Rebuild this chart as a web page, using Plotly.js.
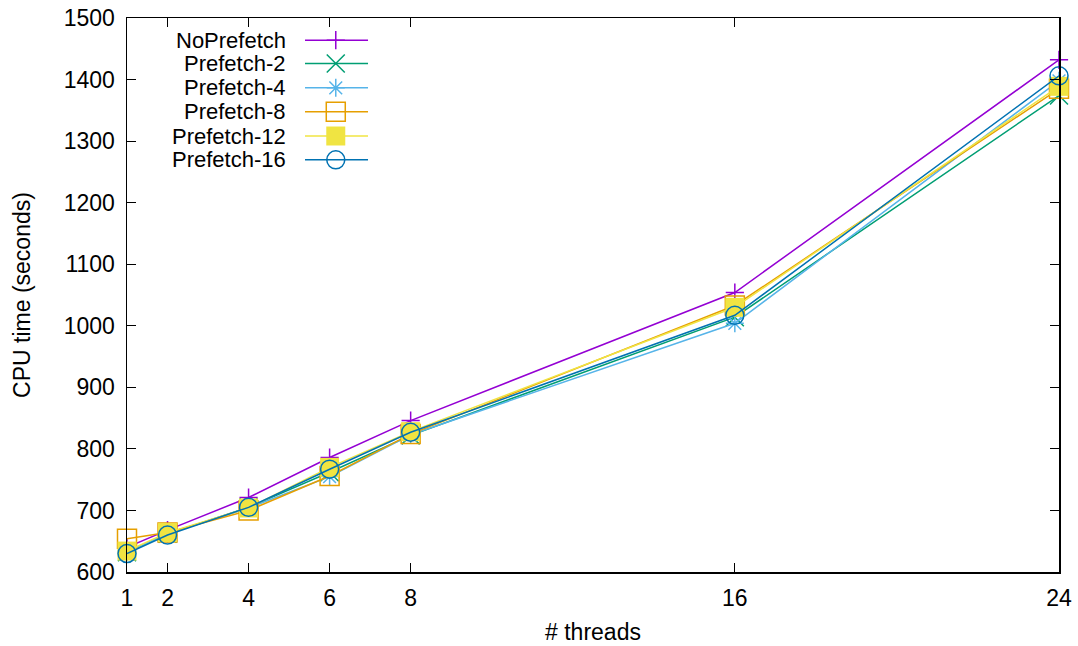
<!DOCTYPE html>
<html>
<head>
<meta charset="utf-8">
<script src="https://cdn.plot.ly/plotly-3.0.1.min.js"></script>
<style>html,body{margin:0;padding:0;background:#fff;}#chart{width:1078px;height:646px;}</style>
</head>
<body>
<div id="chart"></div>
<script>
const threads = [1, 2, 4, 6, 8, 16, 24];
const seriesNames = ["NoPrefetch", "Prefetch-2", "Prefetch-4", "Prefetch-8", "Prefetch-12", "Prefetch-16"];
const noPrefetch = [640, 668, 721, 786, 846, 1054, 1432];
const prefetch2  = [632, 662, 705, 762, 822, 1014, 1374];
const prefetch4  = [633, 662, 704, 755, 823, 1004, 1398];
const prefetch8  = [654, 664, 700, 756, 824, 1033, 1385];
const prefetch12 = [634, 664, 704, 770, 828, 1030, 1389];
const prefetch16 = [630, 660, 705, 767, 827, 1017, 1406];
const xTicks = [1, 2, 4, 6, 8, 16, 24];
const yTicks = [600, 700, 800, 900, 1000, 1100, 1200, 1300, 1400, 1500];

const allSeries = [noPrefetch, prefetch2, prefetch4, prefetch8, prefetch12, prefetch16];
const colors = ["#9400d3", "#009e73", "#56b4e9", "#e69f00", "#f0e442", "#0072b2"];
const symbols = ["cross-thin-open", "x-thin-open", "asterisk-open", "square-open", "square", "circle-open"];
const sizes = [13, 18, 15, 19, 19, 18];
const FONT = "Liberation Sans, Arial, Helvetica, sans-serif";
const FS = 23;

const traces = [];
allSeries.forEach((vals, i) => {
  const filled = symbols[i] === "square";
  traces.push({
    x: threads, y: vals, name: seriesNames[i], type: "scatter", mode: "lines+markers",
    line: {color: colors[i], width: 1.5},
    marker: {symbol: symbols[i], size: sizes[i], color: colors[i],
             line: {color: colors[i], width: filled ? 0 : 1.5}},
    showlegend: false, cliponaxis: false
  });
});

// custom gnuplot-style legend (text on the left, sample on the right) on an overlay axis
const legX0 = 0.191, legX1 = 0.2586, legXM = 0.224, legTextX = 0.1727;
const legRows = [0.960, 0.918, 0.874, 0.831, 0.787, 0.744];
const annotations = [];
seriesNames.forEach((nm, i) => {
  const filled = symbols[i] === "square";
  traces.push({
    x: [legX0, legX1], y: [legRows[i], legRows[i]], xaxis: "x2", yaxis: "y2",
    type: "scatter", mode: "lines", line: {color: colors[i], width: 1.5},
    showlegend: false, hoverinfo: "skip"
  });
  traces.push({
    x: [legXM], y: [legRows[i]], xaxis: "x2", yaxis: "y2",
    type: "scatter", mode: "markers",
    marker: {symbol: symbols[i], size: sizes[i], color: colors[i],
             line: {color: colors[i], width: filled ? 0 : 1.5}},
    showlegend: false, hoverinfo: "skip"
  });
  annotations.push({
    xref: "x2", yref: "y2", x: legTextX, y: legRows[i], text: nm,
    showarrow: false, xanchor: "right", yanchor: "middle",
    font: {family: FONT, size: 22, color: "#000"}
  });
});

const layout = {
  width: 1078, height: 646,
  margin: {l: 127, r: 19, t: 18, b: 74, pad: 0},
  paper_bgcolor: "#fff", plot_bgcolor: "#fff",
  font: {family: FONT, size: FS, color: "#000"},
  showlegend: false,
  xaxis: {
    range: [1, 24], tickvals: xTicks, ticktext: xTicks.map(String),
    ticks: "inside", ticklen: 9, tickwidth: 1, tickcolor: "#000",
    showline: true, linecolor: "#000", linewidth: 1.5, mirror: "allticks",
    showgrid: false, zeroline: false, ticklabelstandoff: 5,
    tickfont: {family: FONT, size: FS},
    title: {text: "# threads", font: {family: FONT, size: FS}, standoff: 14}
  },
  yaxis: {
    range: [600, 1500], tickvals: yTicks, ticktext: yTicks.map(String),
    ticks: "inside", ticklen: 9, tickwidth: 1, tickcolor: "#000",
    showline: true, linecolor: "#000", linewidth: 1.5, mirror: "allticks",
    showgrid: false, zeroline: false, ticklabelstandoff: 6,
    tickfont: {family: FONT, size: FS},
    title: {text: "CPU time (seconds)", font: {family: FONT, size: FS}, standoff: 26}
  },
  xaxis2: {overlaying: "x", range: [0, 1], visible: false, fixedrange: true},
  yaxis2: {overlaying: "y", range: [0, 1], visible: false, fixedrange: true},
  annotations: annotations
};

Plotly.newPlot("chart", traces, layout, {staticPlot: true, displayModeBar: false});
</script>
</body>
</html>
